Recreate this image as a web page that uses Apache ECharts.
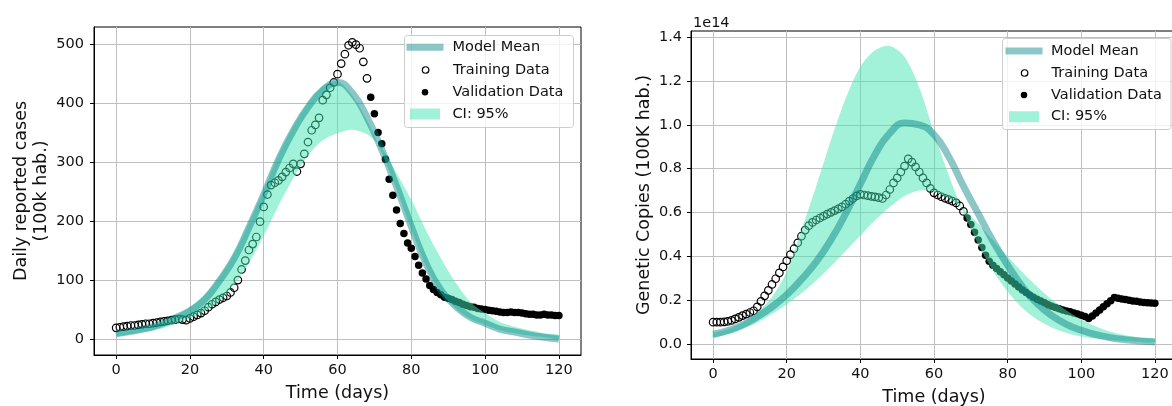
<!DOCTYPE html>
<html>
<head>
<meta charset="utf-8">
<script src="https://cdn.jsdelivr.net/npm/echarts@6/dist/echarts.min.js"></script>
<style>
html, body { margin: 0; padding: 0; background: #fff; }
#chart { width: 1172px; height: 406px; }
</style>
</head>
<body>
<div id="chart"></div>
<script>
// left panel: daily reported cases (100k hab.)
const casesTrainStart = 0
const casesTrain = [20, 21, 22, 23, 24, 24, 25, 26, 27, 27,
  28, 29, 30, 31, 32, 33, 34, 35, 34, 33,
  36, 39, 42, 45, 49, 55, 60, 64, 68, 71,
  74, 80, 88, 101, 119, 134, 152, 162, 174, 200,
  225, 246, 262, 266, 270, 276, 284, 291, 298, 285,
  298, 315, 335, 355, 364, 376, 406, 415, 427, 436,
  450, 468, 484, 499, 504, 500, 494, 471, 443]
const casesValidStart = 69
const casesValid = [411, 383, 351, 332, 306, 272, 245, 220, 197, 180,
  164, 155, 141, 126, 113, 103, 92, 85, 80, 76,
  72, 70, 68, 65, 63, 60, 58, 56, 55, 53,
  52, 51, 50, 49, 48, 47, 46, 46, 47, 46,
  46, 45, 44, 43, 43, 42, 42, 43, 42, 42,
  41, 41]

// model curves are read every 4 days
const curveDays = [0, 4, 8, 12, 16, 20, 24, 28, 32, 36, 40, 44, 48, 52, 56, 60,
  64, 68, 72, 76, 80, 84, 88, 92, 96, 100, 104, 108, 112, 116, 120]
const casesMean = [10, 14, 19, 26, 37, 49, 68, 100, 138, 190, 246, 305, 354, 394, 423, 436,
  418, 377, 322, 260, 192, 129, 84, 57, 38, 28, 18, 13, 8, 4, 1]
const casesCiUpper = [12, 16, 22, 30, 41, 55, 76, 107, 147, 199, 255, 314, 362, 402, 430, 438,
  414, 372, 317, 255, 187, 124, 80, 53, 35, 25, 16, 11, 7, 4, 1]
const casesCiLower = [6, 9, 13, 18, 27, 36, 48, 65, 94, 130, 176, 227, 273, 312, 338, 350,
  356, 348, 325, 282, 237, 185, 138, 97, 64, 45, 30, 22, 16, 11, 8]

// right panel: genetic copies, values in units of 1e14
const copiesTrainStart = 0
const copiesTrain = [0.100, 0.100, 0.100, 0.101, 0.104, 0.108, 0.115, 0.122, 0.130, 0.137,
  0.144, 0.152, 0.170, 0.195, 0.220, 0.245, 0.272, 0.298, 0.325, 0.352,
  0.380, 0.408, 0.435, 0.462, 0.492, 0.520, 0.540, 0.555, 0.566, 0.575,
  0.584, 0.593, 0.601, 0.609, 0.617, 0.626, 0.638, 0.652, 0.664, 0.676,
  0.683, 0.680, 0.677, 0.674, 0.671, 0.668, 0.664, 0.680, 0.705, 0.735,
  0.758, 0.785, 0.812, 0.845, 0.830, 0.808, 0.785, 0.758, 0.735, 0.710,
  0.690, 0.680, 0.672, 0.665, 0.659, 0.652, 0.644, 0.630, 0.605]
const copiesValidStart = 69
const copiesValid = [0.575, 0.545, 0.510, 0.475, 0.440, 0.405, 0.378, 0.360, 0.345, 0.330,
  0.316, 0.302, 0.288, 0.274, 0.260, 0.247, 0.235, 0.224, 0.214, 0.204,
  0.196, 0.188, 0.180, 0.173, 0.167, 0.161, 0.156, 0.151, 0.147, 0.142,
  0.137, 0.132, 0.126, 0.117, 0.128, 0.142, 0.156, 0.170, 0.184, 0.198,
  0.212, 0.209, 0.206, 0.203, 0.200, 0.197, 0.195, 0.192, 0.190, 0.188,
  0.187, 0.186]
const copiesMean = [0.045, 0.062, 0.088, 0.125, 0.170, 0.225, 0.295, 0.375, 0.475, 0.595,
  0.730, 0.865, 0.962, 1.008, 1.000, 0.955, 0.855, 0.720, 0.595, 0.470,
  0.360, 0.262, 0.185, 0.130, 0.090, 0.063, 0.043, 0.029, 0.020, 0.014, 0.010]
const copiesCiUpper = [0.050, 0.068, 0.098, 0.145, 0.215, 0.330, 0.520, 0.720, 0.930, 1.120,
  1.265, 1.340, 1.360, 1.310, 1.170, 0.965, 0.770, 0.600, 0.455, 0.335,
  0.240, 0.165, 0.112, 0.076, 0.051, 0.035, 0.025, 0.018, 0.013, 0.010, 0.008]
const copiesCiLower = [0.030, 0.045, 0.068, 0.098, 0.138, 0.182, 0.232, 0.290, 0.355, 0.425,
  0.495, 0.565, 0.625, 0.675, 0.700, 0.695, 0.665, 0.615, 0.548, 0.475,
  0.400, 0.328, 0.262, 0.203, 0.153, 0.112, 0.080, 0.056, 0.040, 0.030, 0.024]

const dayTicks = [0, 20, 40, 60, 80, 100, 120]
const casesTicks = [0, 100, 200, 300, 400, 500]
const copiesTicks = [0, 0.2, 0.4, 0.6, 0.8, 1.0, 1.2, 1.4]

const font = 'DejaVu Sans'
const meanColor = 'rgba(0,128,128,0.45)'
const bandColor = 'rgba(70,228,180,0.5)'
const textColor = '#111'

const chart = echarts.init(document.getElementById('chart'))

function points(start, values) {
  return values.map((v, i) => [start + i, v])
}

function curve(values) {
  return curveDays.map((d, i) => [d, values[i]])
}

function xAxis(idx, gap) {
  return {
    type: 'value', gridIndex: idx, min: -6, max: 126, splitNumber: 6,
    name: 'Time (days)', nameLocation: 'middle', nameGap: gap,
    nameTextStyle: { fontFamily: font, fontSize: 17.5, color: textColor },
    axisLine: { show: true, onZero: false, lineStyle: { color: '#000', width: 1 } },
    axisTick: { show: true, length: 4, customValues: dayTicks, lineStyle: { color: '#000' } },
    axisLabel: { customValues: dayTicks, margin: 8, fontFamily: font, fontSize: 14.5, color: textColor },
    splitLine: { show: true, lineStyle: { color: '#bfbfbf', width: 1 } }
  }
}

function yAxis(idx, opts) {
  return Object.assign({
    type: 'value', gridIndex: idx, nameLocation: 'middle',
    nameTextStyle: { fontFamily: font, fontSize: 17.5, color: textColor, lineHeight: 20 },
    axisLine: { show: true, onZero: false, lineStyle: { color: '#000', width: 1 } },
    splitLine: { show: true, lineStyle: { color: '#bfbfbf', width: 1 } }
  }, opts)
}

function scatter(name, idx, data, filled) {
  return {
    name, type: 'scatter', xAxisIndex: idx, yAxisIndex: idx, z: 2, silent: true,
    symbol: 'circle', symbolSize: 7.5,
    itemStyle: filled
      ? { color: '#000', opacity: 1 }
      : { color: 'rgba(0,0,0,0)', borderColor: '#000', borderWidth: 1.2, opacity: 1 },
    data
  }
}

function band(idx, upper, lower) {
  return {
    name: 'CI: 95%', type: 'custom', xAxisIndex: idx, yAxisIndex: idx, z: 3, silent: true,
    itemStyle: { color: bandColor },
    data: [[0, 0]],
    renderItem(params, api) {
      const top = curveDays.map((d, i) => api.coord([d, upper[i]]))
      const bottom = curveDays.map((d, i) => api.coord([d, lower[i]])).reverse()
      return {
        type: 'polygon',
        shape: { points: top.concat(bottom), smooth: 0.3 },
        style: { fill: bandColor }
      }
    }
  }
}

function mean(idx, values) {
  return {
    name: 'Model Mean', type: 'line', xAxisIndex: idx, yAxisIndex: idx, z: 4, silent: true,
    smooth: true, showSymbol: false,
    itemStyle: { color: meanColor },
    lineStyle: { color: meanColor, width: 7 },
    data: curve(values)
  }
}

// one legend per row so each marker can have its own size;
// the box is aligned on the icon, so shift it by the icon's inset
function legendRow(name, left, top, w, h, iconW, icon, itemStyle) {
  return {
    data: [{ name, icon, itemStyle }],
    left: left + (w - iconW) / 2, top: top - 8, itemWidth: w, itemHeight: h, padding: 0,
    selectedMode: false, z: 12,
    textStyle: { fontFamily: font, fontSize: 14.5, color: textColor, lineHeight: 16 }
  }
}

function legendSet(left, w, rows) {
  return [
    legendRow('Model Mean', left, rows[0], w, 7, 37, 'path://M0,0H37V7H0Z', { color: meanColor, borderWidth: 0 }),
    legendRow('Training Data', left, rows[1], w, 6.5, 6.5, 'circle', { color: 'rgba(0,0,0,0)', borderColor: '#000', borderWidth: 1.2 }),
    legendRow('Validation Data', left, rows[2], w, 6.5, 6.5, 'circle', { color: '#000', borderWidth: 0 }),
    legendRow('CI: 95%', left, rows[3], w, 11, 30, 'path://M0,0H30V11H0Z', { color: bandColor, borderWidth: 0 })
  ]
}

const option = {
  animation: false,
  grid: [
    { left: 94, top: 27, width: 487, height: 328, show: true, borderColor: '#000', borderWidth: 1, outerBoundsMode: 'none' },
    { left: 691, top: 31, width: 486, height: 328, show: true, borderColor: '#000', borderWidth: 1, outerBoundsMode: 'none' }
  ],
  xAxis: [xAxis(0, 29), xAxis(1, 29)],
  yAxis: [
    yAxis(0, {
      min: -26, max: 530, splitNumber: 5,
      name: 'Daily reported cases\n(100k hab.)', nameGap: 43,
      axisTick: { show: true, length: 4, customValues: casesTicks, lineStyle: { color: '#000' } },
      axisLabel: { customValues: casesTicks, margin: 10, fontFamily: font, fontSize: 14.5, color: textColor }
    }),
    yAxis(1, {
      min: -0.068, max: 1.428, splitNumber: 7,
      name: 'Genetic Copies (100K hab.)', nameGap: 37,
      axisTick: { show: true, length: 4, customValues: copiesTicks, lineStyle: { color: '#000' } },
      axisLabel: {
        customValues: copiesTicks, margin: 9, fontFamily: font, fontSize: 14.5, color: textColor,
        formatter: v => v.toFixed(1)
      }
    })
  ],
  legend: legendSet(402.5, 45, [47.3, 70, 92.3, 114]).concat(legendSet(1002, 44, [51, 73, 95, 116.7])),
  graphic: [
    {
      type: 'rect', z: 10, silent: true,
      shape: { x: 404.5, y: 35.5, width: 169, height: 92, r: 3 },
      style: { fill: 'rgba(255,255,255,0.8)', stroke: '#cccccc', lineWidth: 1 }
    },
    {
      type: 'rect', z: 10, silent: true,
      shape: { x: 1002.5, y: 38.5, width: 168.5, height: 91, r: 3 },
      style: { fill: 'rgba(255,255,255,0.8)', stroke: '#cccccc', lineWidth: 1 }
    },
    {
      type: 'text', z: 10, silent: true, x: 693, y: 23,
      style: { text: '1e14', font: '14.5px "DejaVu Sans"', fill: textColor, verticalAlign: 'middle' }
    }
  ],
  series: [
    scatter('Training Data', 0, points(casesTrainStart, casesTrain), false),
    scatter('Validation Data', 0, points(casesValidStart, casesValid), true),
    band(0, casesCiUpper, casesCiLower),
    mean(0, casesMean),
    scatter('Training Data', 1, points(copiesTrainStart, copiesTrain), false),
    scatter('Validation Data', 1, points(copiesValidStart, copiesValid), true),
    band(1, copiesCiUpper, copiesCiLower),
    mean(1, copiesMean)
  ]
}

chart.setOption(option)
</script>
</body>
</html>
